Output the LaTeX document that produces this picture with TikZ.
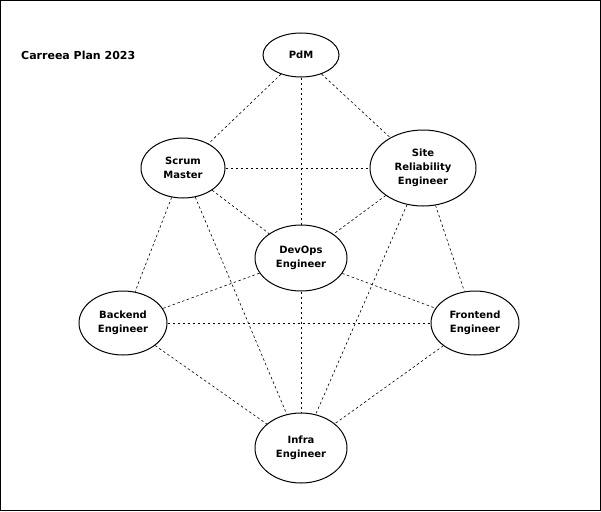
\documentclass[tikz,border=0pt]{standalone}
\usepackage{fontspec}
\setmainfont{DejaVu Sans}
\usetikzlibrary{shapes.geometric,backgrounds}
\begin{document}
\begin{tikzpicture}[x=1pt,y=-1pt,
  el/.style={draw,line width=1pt,ellipse,fill=white,inner sep=0pt,align=center,font=\bfseries\fontsize{10}{14}\selectfont},
  ln/.style={line width=0.6pt,dash pattern=on 2.5pt off 2.5pt}]
\useasboundingbox (0,0) rectangle (601,511);
\draw[line width=0.8pt] (0.5,0.5) rectangle (600.5,510.5);
\node[anchor=west,inner sep=0pt,font=\bfseries\fontsize{11}{14}\selectfont] (t) at (21,55) {Carreea Plan 2023};
\node[el,minimum width=76,minimum height=44] (p) at (301,55) {PdM};
\node[el,minimum width=84,minimum height=60] (s) at (183,168) {Scrum\\Master};
\node[el,minimum width=106,minimum height=76] (r) at (423,168) {Site\\Reliability\\Engineer};
\node[el,minimum width=92,minimum height=66] (d) at (301,258) {DevOps\\Engineer};
\node[el,minimum width=88,minimum height=64] (b) at (123,323) {Backend\\Engineer};
\node[el,minimum width=88,minimum height=64] (f) at (475,323) {Frontend\\Engineer};
\node[el,minimum width=92,minimum height=70] (i) at (301,448) {Infra\\Engineer};
\begin{scope}[on background layer]
\foreach \a/\c in {p/s,p/r,p/d,s/r,s/b,s/d,s/i,r/d,r/f,r/i,d/b,d/f,d/i,b/f,b/i,f/i}
  \draw[ln] (\a) -- (\c);
\end{scope}
\end{tikzpicture}
\end{document}
